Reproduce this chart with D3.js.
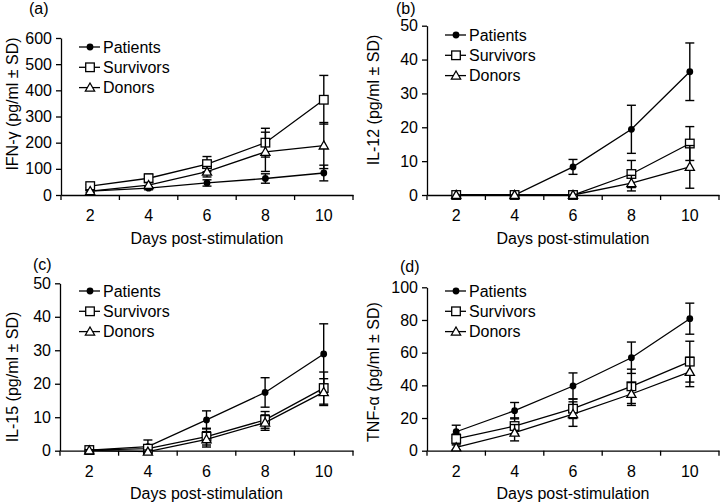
<!DOCTYPE html>
<html><head><meta charset="utf-8">
<script src="https://cdn.jsdelivr.net/npm/d3@7"></script>
<style>
html,body{margin:0;padding:0;background:#fff;}
svg{display:block;font-family:"Liberation Sans",Arial,sans-serif;}
</style></head>
<body>
<svg id="chart" width="720" height="502"></svg>
<script>
// ---------- data ----------
const days = ["2", "4", "6", "8", "10"];
const seriesNames = ["Patients", "Survivors", "Donors"];
const panelLetters = ["(a)", "(b)", "(c)", "(d)"];
const yTitles = ["IFN-\u03b3 (pg/ml \u00b1 SD)", "IL-12 (pg/ml \u00b1 SD)", "IL-15 (pg/ml \u00b1 SD)", "TNF-\u03b1 (pg/ml \u00b1 SD)"];
const xTitle = "Days post-stimulation";
const yMaxes = [600, 50, 50, 100];
const yTickSteps = [100, 10, 10, 20];

// (a) IFN-gamma
const ifnPatients = [15, 26, 46, 63, 84];
const ifnPatientsSD = [4, 6, 12, 18, 30];
const ifnSurvivors = [34, 64, 118, 200, 364];
const ifnSurvivorsSD = [6, 16, 29, 55, 93];
const ifnDonors = [15, 38, 89, 165, 189];
const ifnDonorsSD = [5, 10, 20, 75, 88];

// (b) IL-12
const il12Patients = [0, 0, 8.3, 19.4, 36.4];
const il12PatientsSD = [0, 0, 2.2, 7.1, 8.5];
const il12Survivors = [0, 0, 0, 6.2, 15.2];
const il12SurvivorsSD = [0, 0, 0, 4, 5];
const il12Donors = [0, 0, 0, 3.5, 8.3];
const il12DonorsSD = [0, 0, 0, 2.3, 6.3];

// (c) IL-15
const il15Patients = [0.2, 1.2, 9.2, 17.4, 28.9];
const il15PatientsSD = [0.3, 2.0, 2.7, 4.4, 9];
const il15Survivors = [0.2, 0.6, 4.2, 9.2, 18.7];
const il15SurvivorsSD = [0.2, 1, 2.5, 2.5, 4.8];
const il15Donors = [0.1, -0.3, 3.4, 8.4, 17.5];
const il15DonorsSD = [0.2, 0.5, 2.3, 2.3, 4];

// (d) TNF-alpha
const tnfPatients = [11.6, 24.5, 39.6, 56.9, 80.8];
const tnfPatientsSD = [4, 5, 8, 9.6, 9.5];
const tnfSurvivors = [7.2, 15.1, 25.7, 39.4, 54.5];
const tnfSurvivorsSD = [3, 5, 6, 10.5, 12.5];
const tnfDonors = [2.0, 11.0, 22.4, 34.7, 48.2];
const tnfDonorsSD = [1.5, 5, 7.5, 7, 9];

const panelData = [
  [[ifnPatients, ifnPatientsSD], [ifnSurvivors, ifnSurvivorsSD], [ifnDonors, ifnDonorsSD]],
  [[il12Patients, il12PatientsSD], [il12Survivors, il12SurvivorsSD], [il12Donors, il12DonorsSD]],
  [[il15Patients, il15PatientsSD], [il15Survivors, il15SurvivorsSD], [il15Donors, il15DonorsSD]],
  [[tnfPatients, tnfPatientsSD], [tnfSurvivors, tnfSurvivorsSD], [tnfDonors, tnfDonorsSD]]
];

// ---------- layout ----------
const layouts = [
  {l: 61, r: 353, t: 38, b: 195, lx: 29, ly: 14, yt: 12, ytc: 104, xl: 221, xt: 244, legX: 79, legY: 47},
  {l: 427, r: 719, t: 25.7, b: 195, lx: 396, ly: 14, yt: 373, ytc: 100, xl: 221, xt: 244, legX: 445, legY: 35},
  {l: 60, r: 353, t: 283.3, b: 450.7, lx: 33, ly: 270, yt: 12, ytc: 377, xl: 477, xt: 499, legX: 79, legY: 291},
  {l: 427, r: 719, t: 287.3, b: 450.7, lx: 400, ly: 272, yt: 373, ytc: 372, xl: 477, xt: 499, legX: 445, legY: 291}
];

const svg = d3.select("#chart");
const FS = 16;

function drawMarker(g, type, x, y) {
  if (type === 0) {
    g.append("circle").attr("cx", x).attr("cy", y).attr("r", 3.4).attr("fill", "#000");
  } else if (type === 1) {
    g.append("rect").attr("x", x - 4.3).attr("y", y - 4.3).attr("width", 8.6).attr("height", 8.6)
      .attr("fill", "#fff").attr("stroke", "#000").attr("stroke-width", 1.3);
  } else {
    const s = 4.6;
    g.append("path").attr("d", `M${x},${y - s}L${x + s},${y + s * 0.75}L${x - s},${y + s * 0.75}Z`)
      .attr("fill", "#fff").attr("stroke", "#000").attr("stroke-width", 1.3);
  }
}

panelData.forEach((pd, pi) => {
  const L = layouts[pi];
  const g = svg.append("g");
  const x = d3.scaleBand().domain(days).range([L.l, L.r]);
  const y = d3.scaleLinear().domain([0, yMaxes[pi]]).range([L.b, L.t]);

  // axes
  const yAxis = d3.axisLeft(y).tickValues(d3.range(0, yMaxes[pi] + 1e-9, yTickSteps[pi]))
    .tickSize(5).tickPadding(4).tickSizeOuter(0);
  const ya = g.append("g").attr("transform", `translate(${L.l},0)`).call(yAxis);
  const xAxis = d3.axisBottom(x).tickSize(0).tickPadding(0).tickSizeOuter(0);
  const xa = g.append("g").attr("transform", `translate(0,${L.b})`).call(xAxis);
  xa.selectAll(".tick text").attr("y", L.xl - L.b).attr("dy", null);
  // tick marks at band boundaries
  const bounds = days.map(d => x(d)).concat([x(days[days.length - 1]) + x.bandwidth()]);
  xa.selectAll(".bnd").data(bounds).enter().append("line")
    .attr("x1", d => d).attr("x2", d => d).attr("y1", 0).attr("y2", 5).attr("stroke", "#000").attr("stroke-width", 1.3);
  [ya, xa].forEach(a => {
    a.selectAll("path.domain").attr("stroke", "#000").attr("stroke-width", 1.3);
    a.selectAll(".tick line").attr("stroke", "#000").attr("stroke-width", 1.3);
    a.selectAll("text").attr("font-size", FS).attr("fill", "#000").attr("font-family", "Liberation Sans, Arial, sans-serif");
  });

  // titles
  g.append("text").attr("x", (L.l + L.r) / 2).attr("y", L.xt).attr("text-anchor", "middle")
    .attr("font-size", FS).text(xTitle);
  g.append("text").attr("transform", `translate(${L.yt + 6},${L.ytc}) rotate(-90)`).attr("text-anchor", "middle")
    .attr("font-size", FS).text(yTitles[pi]);
  g.append("text").attr("x", L.lx).attr("y", L.ly).attr("font-size", FS).text(panelLetters[pi]);

  // series
  const cx = d => x(d) + x.bandwidth() / 2;
  pd.forEach(([vals, sds], si) => {
    const pts = days.map((d, i) => ({d, v: vals[i], s: sds[i]}));
    // error bars
    pts.forEach(p => {
      if (p.s <= 0) return;
      const y1 = y(p.v + p.s), y0 = y(p.v - p.s);
      g.append("line").attr("x1", cx(p.d)).attr("x2", cx(p.d)).attr("y1", y1).attr("y2", y0)
        .attr("stroke", "#000").attr("stroke-width", 1.4);
      [y1, y0].forEach(yy => g.append("line").attr("x1", cx(p.d) - 4.5).attr("x2", cx(p.d) + 4.5)
        .attr("y1", yy).attr("y2", yy).attr("stroke", "#000").attr("stroke-width", 1.4));
    });
    const line = d3.line().x(p => cx(p.d)).y(p => y(p.v));
    g.append("path").datum(pts).attr("d", line).attr("fill", "none").attr("stroke", "#000").attr("stroke-width", 1.3);
    pts.forEach(p => drawMarker(g, si, cx(p.d), y(p.v)));
  });

  // legend
  seriesNames.forEach((nm, si) => {
    const ly = L.legY + si * 20.3;
    g.append("line").attr("x1", L.legX).attr("x2", L.legX + 21).attr("y1", ly).attr("y2", ly)
      .attr("stroke", "#000").attr("stroke-width", 1.3);
    drawMarker(g, si, L.legX + 11, ly);
    g.append("text").attr("x", L.legX + 24).attr("y", ly).attr("dy", "0.35em").attr("font-size", FS).text(nm);
  });
});
</script>
</body></html>
